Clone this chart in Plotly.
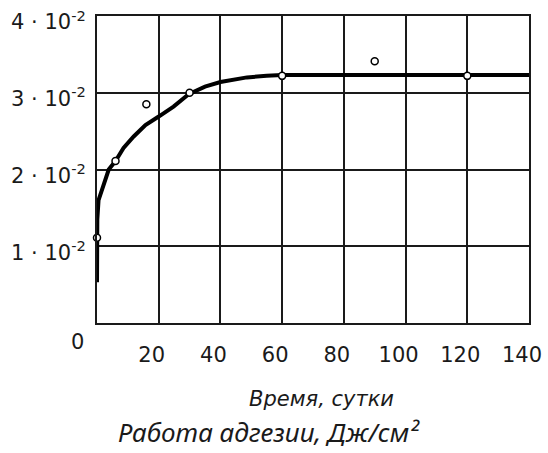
import plotly.graph_objects as go

# Fitted curve
curve_t = [0, 0, 0.1, 0.5, 2.2, 3.8, 6, 8.6, 11.9, 15.7, 20, 24.8, 29.7, 35, 40, 48.6, 55, 60, 80, 100, 120, 140]
curve_y = [0.0053, 0.0110, 0.0135, 0.0160, 0.0182, 0.0200, 0.0211, 0.0228, 0.0243, 0.0258, 0.0269,
           0.0282, 0.0298, 0.0308, 0.0314, 0.0320, 0.0322, 0.0323, 0.0323, 0.0323, 0.0323, 0.0323]

# Experimental points
pts_t = [0, 6, 16, 30, 60, 90, 120]
pts_y = [0.0111, 0.0211, 0.0285, 0.0300, 0.0322, 0.0341, 0.0322]

x_ticks = [20, 40, 60, 80, 100, 120, 140]
y_ticks = [0.01, 0.02, 0.03, 0.04]
y_ticktext = ["1 · 10<sup>-2</sup>", "2 · 10<sup>-2</sup>", "3 · 10<sup>-2</sup>", "4 · 10<sup>-2</sup>"]

x_title = "<i>Время, сутки</i>"
caption = "<i>Работа адгезии, Дж/см²</i>"

txt = "#1a1a1a"
tick_font = dict(family="DejaVu Sans", size=21, color=txt)

fig = go.Figure()
fig.add_trace(go.Scatter(x=curve_t, y=curve_y, mode="lines",
                         line=dict(color="black", width=4), cliponaxis=False, showlegend=False))
fig.add_trace(go.Scatter(x=pts_t, y=pts_y, mode="markers",
                         marker=dict(symbol="circle", size=7, color="white",
                                     line=dict(color="black", width=1.5)),
                         cliponaxis=False, showlegend=False))

fig.update_xaxes(range=[0, 140], tickvals=x_ticks, ticktext=[str(v) for v in x_ticks],
                 showgrid=True, gridcolor=txt, gridwidth=2, zeroline=False,
                 showline=True, linecolor=txt, linewidth=2, mirror=True, automargin=False,
                 ticks="", tickfont=tick_font, ticklabelstandoff=12, ticklabelshift=-7,
                 ticklabeloverflow="allow")
fig.update_yaxes(range=[0, 0.04], tickvals=y_ticks, ticktext=y_ticktext,
                 showgrid=True, gridcolor=txt, gridwidth=2, zeroline=False,
                 showline=True, linecolor=txt, linewidth=2, mirror=True, automargin=False,
                 ticks="", tickfont=tick_font, ticklabelstandoff=5, ticklabelshift=6,
                 ticklabeloverflow="allow")

fig.add_annotation(x=0, y=0, xref="x", yref="y", text="0", showarrow=False,
                   font=tick_font, xshift=-20, yshift=-19)
fig.add_annotation(x=0.519, y=-0.246, xref="paper", yref="paper", text=x_title, showarrow=False,
                   font=dict(family="DejaVu Sans", size=21, color=txt), yanchor="middle")
fig.add_annotation(x=0.398, y=-0.354, xref="paper", yref="paper", text=caption, showarrow=False,
                   font=dict(family="Noto Sans", size=26, color=txt), yanchor="middle")

fig.update_layout(width=548, height=453, margin=dict(l=97, r=19, t=16, b=130),
                  paper_bgcolor="white", plot_bgcolor="white")

fig.write_html("out.html")
